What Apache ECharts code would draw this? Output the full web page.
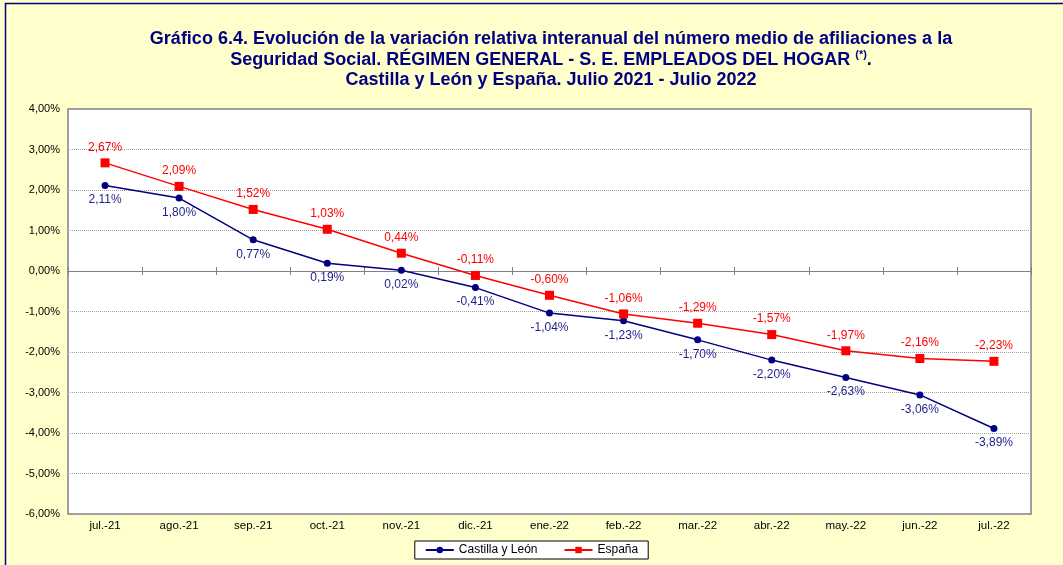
<!DOCTYPE html>
<html><head><meta charset="utf-8">
<script src="https://cdn.jsdelivr.net/npm/echarts@6/dist/echarts.min.js"></script>
<style>html,body{margin:0;padding:0;background:#FFFFCC;}#c{width:1063px;height:565px;}</style>
</head><body><div id="c"></div>
<script>
const categories = ['jul.-21','ago.-21','sep.-21','oct.-21','nov.-21','dic.-21','ene.-22','feb.-22','mar.-22','abr.-22','may.-22','jun.-22','jul.-22'];
const castillaLeon = [2.11, 1.80, 0.77, 0.19, 0.02, -0.41, -1.04, -1.23, -1.70, -2.20, -2.63, -3.06, -3.89];
const espana = [2.67, 2.09, 1.52, 1.03, 0.44, -0.11, -0.60, -1.06, -1.29, -1.57, -1.97, -2.16, -2.23];
const yMin = -6, yMax = 4, yStep = 1;

const fmt = v => v.toFixed(2).replace('.', ',') + '%';
const font = 'Liberation Sans, Arial, sans-serif';
const chart = echarts.init(document.getElementById('c'));
const zeroAxis = (pos) => ({
  type: 'category', data: categories, position: pos,
  axisLine: { show: true, onZero: true, onZeroAxisIndex: 0, lineStyle: { color: '#808080', width: 1 } },
  axisTick: { show: true, length: 4, inside: false, lineStyle: { color: '#808080' } },
  axisLabel: { show: false }
});
chart.setOption({
  backgroundColor: '#FFFFCC',
  textStyle: { fontFamily: font },
  graphic: [{
    type: 'rect', left: 3, top: 1, shape: { width: 1080, height: 600 },
    style: { fill: 'none', stroke: '#000080', lineWidth: 1.5 }, silent: true
  }],
  title: {
    text: 'Gráfico 6.4. Evolución de la variación relativa interanual del número medio de afiliaciones a la\nSeguridad Social. RÉGIMEN GENERAL - S. E. EMPLEADOS DEL HOGAR {sup|(*)}.\nCastilla y León y España. Julio 2021 - Julio 2022',
    left: 546, textAlign: 'center', top: 24,
    textStyle: {
      fontFamily: font, fontSize: 18, fontWeight: 'bold', color: '#000080', lineHeight: 20.5,
      rich: { sup: { fontSize: 11, fontWeight: 'bold', color: '#000080', verticalAlign: 'top', lineHeight: 14, padding: [0,0,8,0] } }
    }
  },
  legend: {
    bottom: 6, left: 'center',
    backgroundColor: '#FFFFFF', borderColor: '#000000', borderWidth: 1,
    padding: [3, 10], itemGap: 26, itemWidth: 28, itemHeight: 8,
    textStyle: { fontFamily: font, fontSize: 12, color: '#000' },
    data: ['Castilla y León', 'España']
  },
  grid: {
    left: 68, right: 32, top: 109, bottom: 51, show: true,
    backgroundColor: '#FFFFFF', borderColor: '#808080', borderWidth: 1.5
  },
  xAxis: [{
    type: 'category', data: categories, position: 'bottom',
    axisLine: { show: false, onZero: false }, axisTick: { show: false },
    axisLabel: { fontFamily: font, fontSize: 11.5, color: '#000', margin: 6 }
  }, zeroAxis('bottom'), zeroAxis('top')],
  yAxis: {
    type: 'value', min: yMin, max: yMax, interval: yStep,
    axisLine: { show: false }, axisTick: { show: false },
    axisLabel: { fontFamily: font, fontSize: 11, color: '#000', margin: 8, formatter: v => fmt(v) },
    splitLine: { lineStyle: { color: '#A0A0A0', type: [1, 1], width: 1 } }
  },
  series: [{
    name: 'Castilla y León', type: 'line', data: castillaLeon,
    symbol: 'circle', symbolSize: 7,
    itemStyle: { color: '#000080' }, lineStyle: { color: '#000080', width: 1.5 },
    label: { show: true, position: 'bottom', distance: 5, color: '#1F1F8A', fontSize: 12, fontFamily: font, formatter: p => fmt(p.value) }
  }, {
    name: 'España', type: 'line', data: espana,
    symbol: 'rect', symbolSize: 9,
    itemStyle: { color: '#FF0000' }, lineStyle: { color: '#FF0000', width: 1.5 },
    label: { show: true, position: 'top', distance: 5, color: '#FF0000', fontSize: 12, fontFamily: font, formatter: p => fmt(p.value) }
  }]
});
</script></body></html>
